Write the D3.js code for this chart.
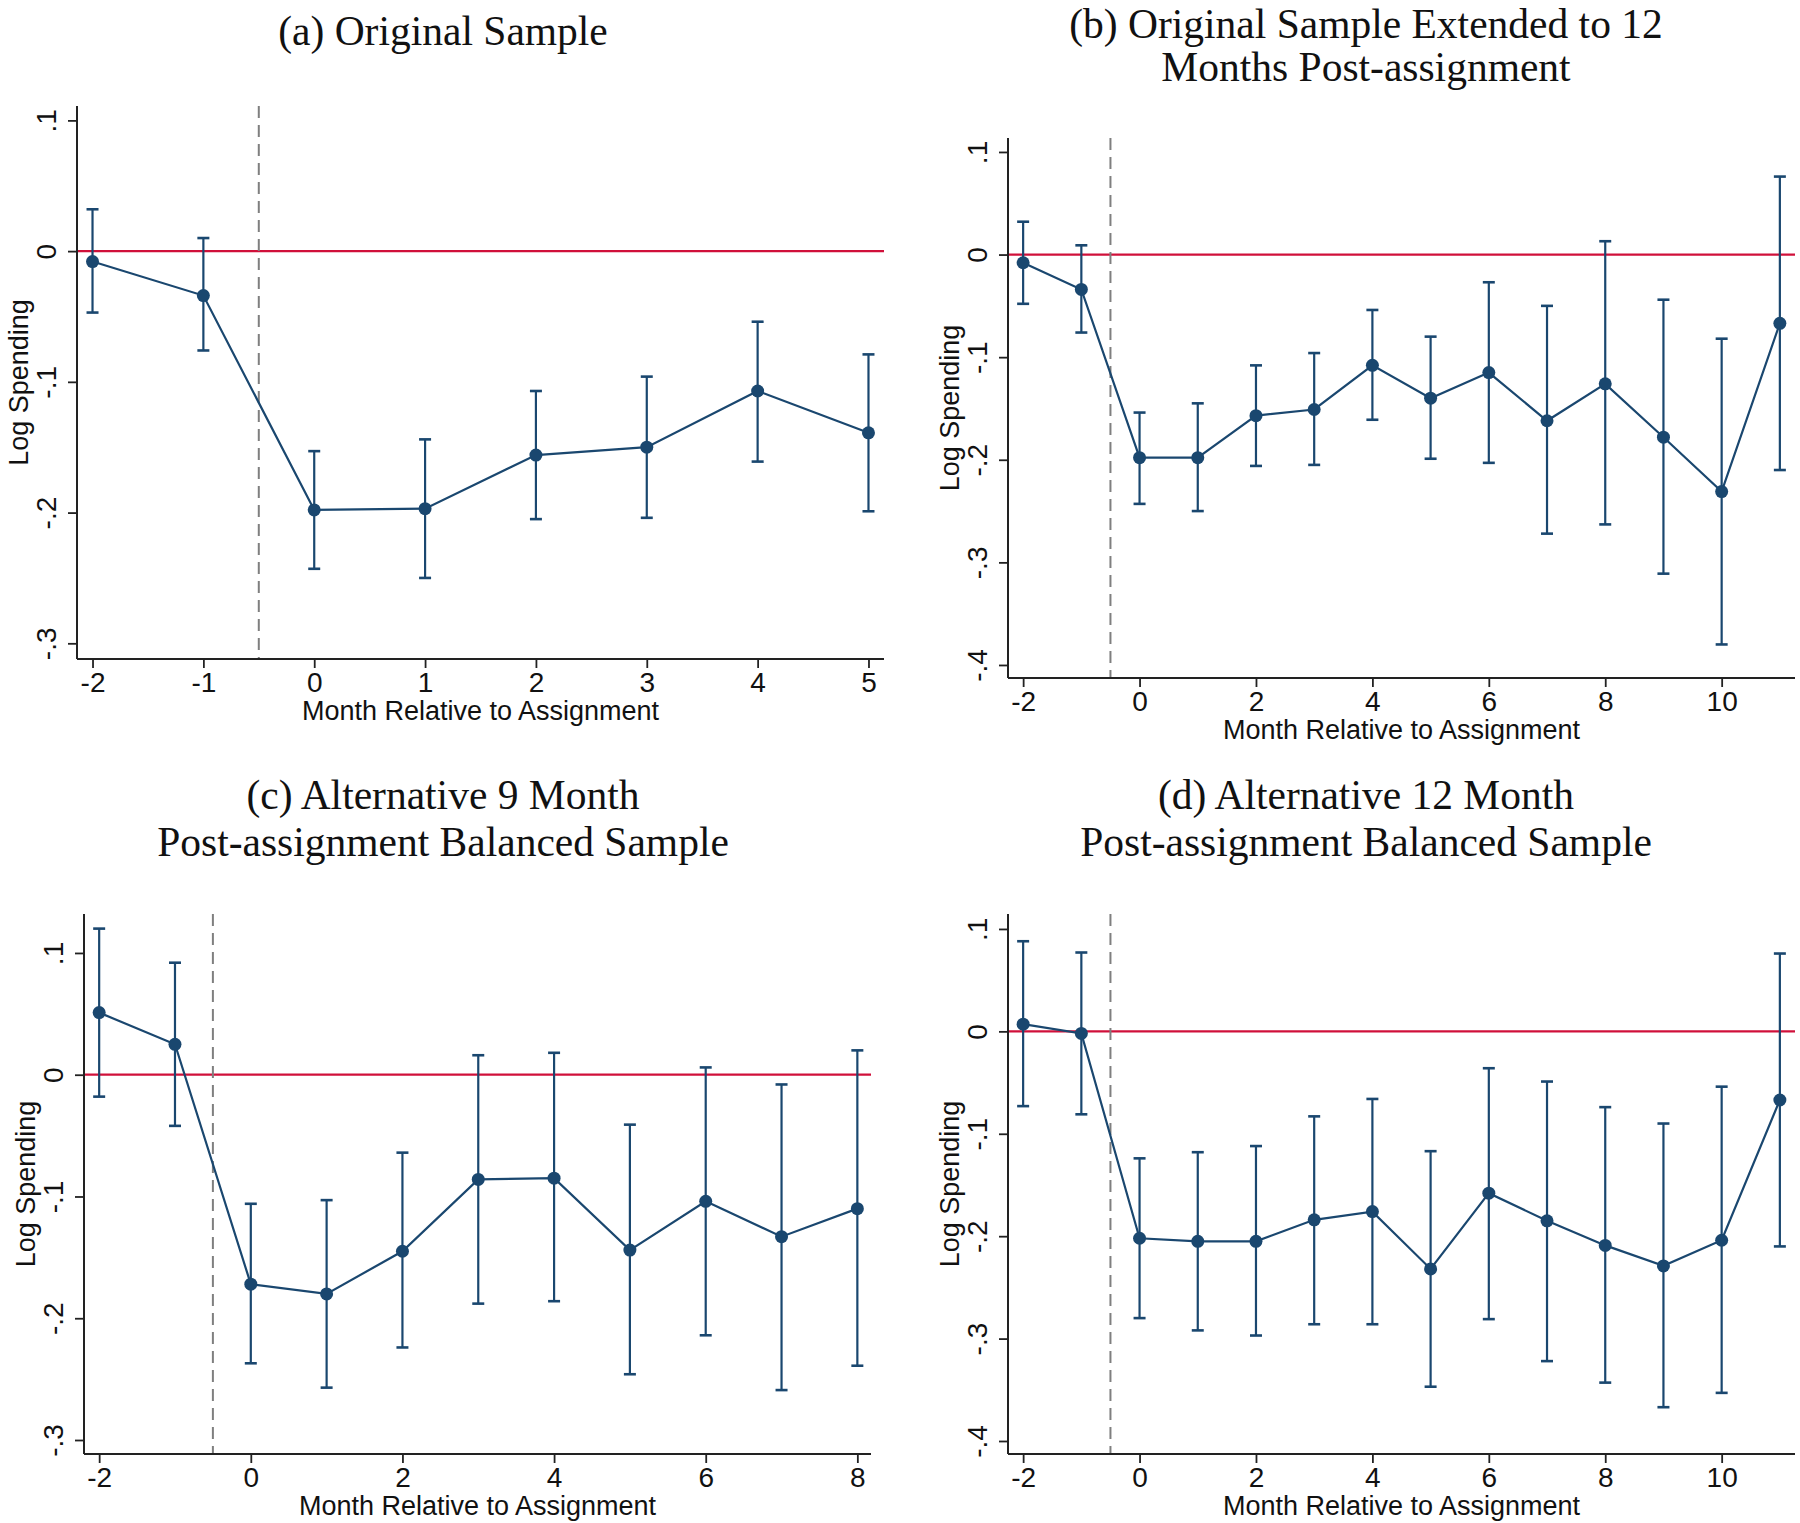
<!DOCTYPE html>
<html>
<head>
<meta charset="utf-8">
<script src="https://cdn.jsdelivr.net/npm/d3@7"></script>
<style>
  html, body { margin: 0; padding: 0; background: #fff; }
  svg { display: block; }
</style>
</head>
<body>
<svg id="chart" width="1800" height="1523"></svg>
<script>
// ---------------- Data ----------------
const monthsA = [-2, -1, 0, 1, 2, 3, 4, 5];
const coefA = [-0.008, -0.034, -0.198, -0.197, -0.156, -0.150, -0.107, -0.139];
const lowA  = [-0.047, -0.076, -0.243, -0.250, -0.205, -0.204, -0.161, -0.199];
const highA = [ 0.032,  0.010, -0.153, -0.144, -0.107, -0.096, -0.054, -0.079];

const monthsB = [-2, -1, 0, 1, 2, 3, 4, 5, 6, 7, 8, 9, 10, 11];
const coefB = [-0.008, -0.034, -0.198, -0.198, -0.157, -0.151, -0.108, -0.140, -0.115, -0.162, -0.126, -0.178, -0.231, -0.067];
const lowB  = [-0.048, -0.076, -0.243, -0.250, -0.206, -0.205, -0.161, -0.199, -0.203, -0.272, -0.263, -0.311, -0.380, -0.210];
const highB = [ 0.032,  0.009, -0.154, -0.145, -0.108, -0.096, -0.054, -0.080, -0.027, -0.050,  0.013, -0.044, -0.082,  0.076];

const monthsC = [-2, -1, 0, 1, 2, 3, 4, 5, 6, 7, 8];
const coefC = [ 0.051,  0.025, -0.172, -0.180, -0.145, -0.086, -0.085, -0.144, -0.104, -0.133, -0.110];
const lowC  = [-0.018, -0.042, -0.237, -0.257, -0.224, -0.188, -0.186, -0.246, -0.214, -0.259, -0.239];
const highC = [ 0.120,  0.092, -0.106, -0.103, -0.064,  0.016,  0.018, -0.041,  0.006, -0.008,  0.020];

const monthsD = [-2, -1, 0, 1, 2, 3, 4, 5, 6, 7, 8, 9, 10, 11];
const coefD = [ 0.007, -0.002, -0.202, -0.205, -0.205, -0.184, -0.176, -0.232, -0.158, -0.185, -0.209, -0.229, -0.204, -0.067];
const lowD  = [-0.073, -0.081, -0.280, -0.292, -0.297, -0.286, -0.286, -0.347, -0.281, -0.322, -0.343, -0.367, -0.353, -0.210];
const highD = [ 0.088,  0.077, -0.124, -0.118, -0.112, -0.083, -0.066, -0.117, -0.036, -0.049, -0.074, -0.090, -0.054,  0.076];

const xTicksA = [-2, -1, 0, 1, 2, 3, 4, 5];
const xTicksB = [-2, 0, 2, 4, 6, 8, 10];
const xTicksC = [-2, 0, 2, 4, 6, 8];
const xTicksD = [-2, 0, 2, 4, 6, 8, 10];
const yTicksShort = [0.1, 0, -0.1, -0.2, -0.3];
const yTicksLong  = [0.1, 0, -0.1, -0.2, -0.3, -0.4];
const yTickLabels = { "0.1": ".1", "0": "0", "-0.1": "-.1", "-0.2": "-.2", "-0.3": "-.3", "-0.4": "-.4" };

const titleA = ["(a) Original Sample"];
const titleB = ["(b) Original Sample Extended to 12", "Months Post-assignment"];
const titleC = ["(c) Alternative 9 Month", "Post-assignment Balanced Sample"];
const titleD = ["(d) Alternative 12 Month", "Post-assignment Balanced Sample"];

const xAxisTitle = "Month Relative to Assignment";
const yAxisTitle = "Log Spending";
const treatmentLine = -0.5;

// ---------------- Styling / layout ----------------
const NAVY = "#1a476f";
const RED = "#d0103a";
const SANS = "'Liberation Sans', Arial, Helvetica, sans-serif";
const SERIF = "'Liberation Serif', 'Times New Roman', serif";

const panels = [
  { months: monthsA, coef: coefA, low: lowA, high: highA, xTicks: xTicksA, yTicks: yTicksShort,
    title: titleA, titleX: 443, titleY: [45],
    left: 77, right: 884, top: 106, bottom: 659, xDom: [-2.14, 5.14], yDom: [-0.312, 0.111] },
  { months: monthsB, coef: coefB, low: lowB, high: highB, xTicks: xTicksB, yTicks: yTicksLong,
    title: titleB, titleX: 1366, titleY: [38, 81],
    left: 1008, right: 1795, top: 138, bottom: 678, xDom: [-2.26, 11.26], yDom: [-0.4127, 0.1136] },
  { months: monthsC, coef: coefC, low: lowC, high: highC, xTicks: xTicksC, yTicks: yTicksShort,
    title: titleC, titleX: 443, titleY: [809, 856],
    left: 84, right: 871, top: 914, bottom: 1454, xDom: [-2.2, 8.18], yDom: [-0.3115, 0.132] },
  { months: monthsD, coef: coefD, low: lowD, high: highD, xTicks: xTicksD, yTicks: yTicksLong,
    title: titleD, titleX: 1366, titleY: [809, 856],
    left: 1008, right: 1795, top: 914, bottom: 1454, xDom: [-2.26, 11.26], yDom: [-0.4127, 0.1146] }
];

const svg = d3.select("#chart");
svg.append("rect").attr("width", 1800).attr("height", 1523).attr("fill", "#fff");

panels.forEach(p => {
  const x = d3.scaleLinear().domain(p.xDom).range([p.left, p.right]);
  const y = d3.scaleLinear().domain(p.yDom).range([p.bottom, p.top]);
  const g = svg.append("g");

  // Title
  const t = g.append("text")
    .attr("font-family", SERIF)
    .attr("font-size", 41.5)
    .attr("fill", "#111")
    .attr("text-anchor", "middle");
  p.title.forEach((line, i) => {
    t.append("tspan").attr("x", p.titleX).attr("y", p.titleY[i]).text(line);
  });

  // Reference lines
  g.append("line")
    .attr("x1", p.left).attr("x2", p.right)
    .attr("y1", y(0)).attr("y2", y(0))
    .attr("stroke", RED).attr("stroke-width", 2.2);

  g.append("line")
    .attr("x1", x(treatmentLine)).attr("x2", x(treatmentLine))
    .attr("y1", p.top).attr("y2", p.bottom)
    .attr("stroke", "#7f7f7f").attr("stroke-width", 2)
    .attr("stroke-dasharray", "12,7");

  // Axes
  const xAxis = d3.axisBottom(x).tickValues(p.xTicks).tickSize(9).tickPadding(7).tickFormat(d3.format("d"));
  const gx = g.append("g").attr("transform", `translate(0,${p.bottom})`).call(xAxis);
  gx.select(".domain").attr("d", `M${p.left},0H${p.right}`).attr("stroke", "#222").attr("stroke-width", 2);
  gx.selectAll(".tick line").attr("stroke", "#222").attr("stroke-width", 1.8);
  gx.selectAll(".tick text")
    .attr("font-family", SANS).attr("font-size", 28).attr("fill", "#111")
    .attr("dy", null).attr("y", 33)
    .text(d => d < 0 ? "-" + Math.abs(d) : String(d));

  const yAxis = d3.axisLeft(y).tickValues(p.yTicks).tickSize(9)
    .tickFormat(d => yTickLabels[String(+d.toFixed(1))]);
  const gy = g.append("g").attr("transform", `translate(${p.left},0)`).call(yAxis);
  gy.select(".domain").attr("d", `M0,${p.top}V${p.bottom}`).attr("stroke", "#222").attr("stroke-width", 2);
  gy.selectAll(".tick line").attr("stroke", "#222").attr("stroke-width", 1.8);
  gy.selectAll(".tick text")
    .attr("font-family", SANS).attr("font-size", 28).attr("fill", "#111")
    .attr("x", null).attr("dy", null)
    .attr("text-anchor", "middle")
    .attr("transform", "translate(-21,0) rotate(-90)");

  // Axis titles
  g.append("text")
    .attr("x", (p.left + p.right) / 2).attr("y", p.bottom + 61)
    .attr("text-anchor", "middle")
    .attr("font-family", SANS).attr("font-size", 27).attr("fill", "#111")
    .text(xAxisTitle);
  g.append("text")
    .attr("transform", `translate(${p.left - 49},${(p.top + p.bottom) / 2}) rotate(-90)`)
    .attr("text-anchor", "middle")
    .attr("font-family", SANS).attr("font-size", 27).attr("fill", "#111")
    .text(yAxisTitle);

  // Data
  const rows = p.months.map((m, i) => ({ m, c: p.coef[i], lo: p.low[i], hi: p.high[i] }));
  const capW = 6;

  const eb = g.append("g").attr("stroke", NAVY).attr("fill", "none");
  eb.selectAll("line.ci").data(rows).join("line").attr("class", "ci")
    .attr("x1", d => x(d.m)).attr("x2", d => x(d.m))
    .attr("y1", d => y(d.lo)).attr("y2", d => y(d.hi))
    .attr("stroke-width", 2.2);
  eb.selectAll("line.capHi").data(rows).join("line").attr("class", "capHi")
    .attr("x1", d => x(d.m) - capW).attr("x2", d => x(d.m) + capW)
    .attr("y1", d => y(d.hi)).attr("y2", d => y(d.hi))
    .attr("stroke-width", 2.6);
  eb.selectAll("line.capLo").data(rows).join("line").attr("class", "capLo")
    .attr("x1", d => x(d.m) - capW).attr("x2", d => x(d.m) + capW)
    .attr("y1", d => y(d.lo)).attr("y2", d => y(d.lo))
    .attr("stroke-width", 2.6);

  const line = d3.line().x(d => x(d.m)).y(d => y(d.c));
  g.append("path").datum(rows)
    .attr("d", line)
    .attr("fill", "none").attr("stroke", NAVY).attr("stroke-width", 2.2);

  g.selectAll("circle.pt").data(rows).join("circle").attr("class", "pt")
    .attr("cx", d => x(d.m)).attr("cy", d => y(d.c)).attr("r", 6.5)
    .attr("fill", NAVY);
});
</script>
</body>
</html>
